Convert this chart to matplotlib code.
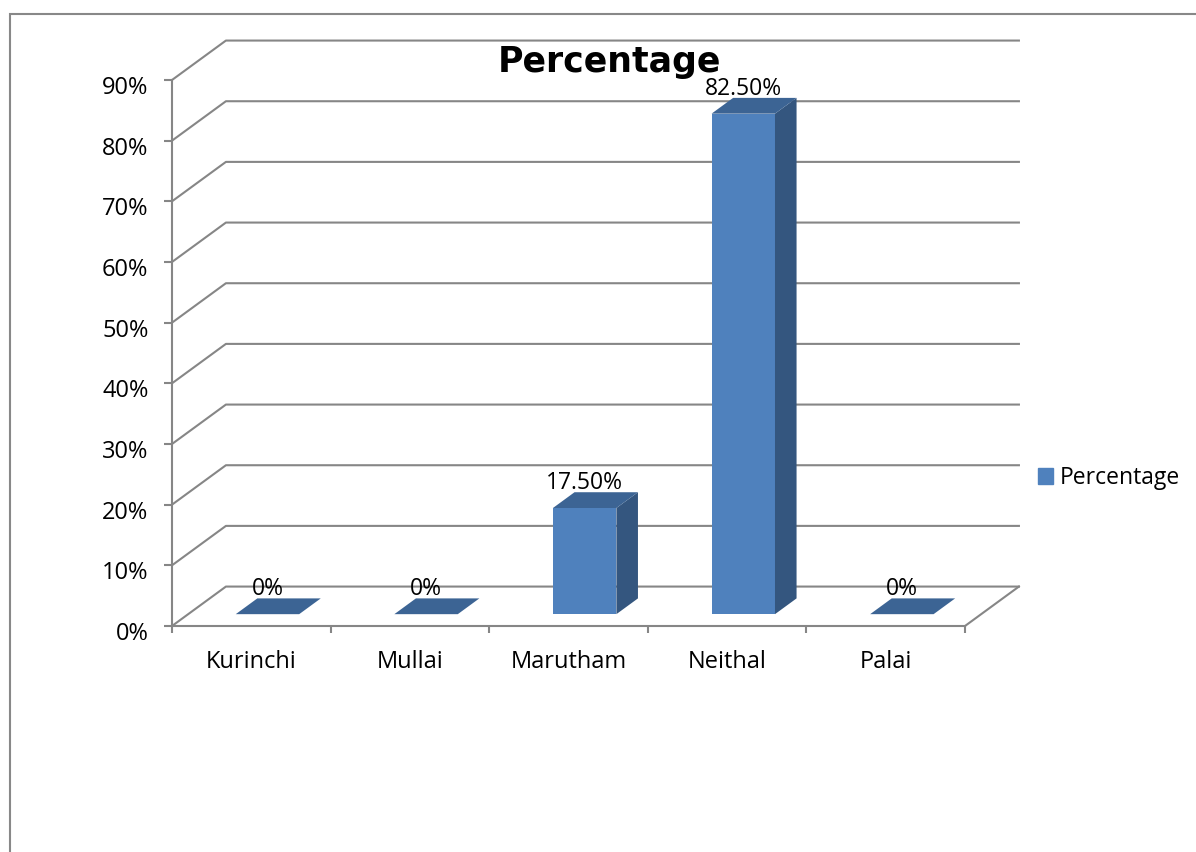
import matplotlib
matplotlib.use("Agg")
import matplotlib.pyplot as plt
from matplotlib.patches import Polygon, Patch, Rectangle
from matplotlib.transforms import ScaledTranslation

categories = ['Kurinchi', 'Mullai', 'Marutham', 'Neithal', 'Palai']
values = [0, 0, 17.5, 82.5, 0]
value_labels = ['0%', '0%', '17.50%', '82.50%', '0%']
y_ticks = [0, 10, 20, 30, 40, 50, 60, 70, 80, 90]

FRONT = '#4F81BD'
TOP = '#3C6494'
SIDE = '#34567F'
GRID = '#868686'

# pseudo 3d depth, in data units (categories, percent)
DX, DY = 0.34, 6.5
F1, F2 = 0.30, 0.70   # bar front / back depth fraction
HALF = 0.2            # half bar width

plt.rcParams['font.family'] = ['Open Sans', 'DejaVu Sans']

fig = plt.figure(figsize=(11.96, 8.52), dpi=100)
ax = fig.add_axes([0.14381, 0.26526, 0.66304, 0.64085])
ax.set_xlim(-0.5, 4.5)
ax.set_ylim(0, 90)

# back wall gridlines + left wall diagonals
for y in y_ticks:
    ax.plot([-0.5, -0.5 + DX, 4.5 + DX], [y, y + DY, y + DY],
            color=GRID, lw=1.5, clip_on=False, zorder=1)
# floor right edge
ax.plot([4.5, 4.5 + DX], [0, DY], color=GRID, lw=1.5, clip_on=False, zorder=1)

def bar3d(i, v):
    xl1, xr1 = i - HALF + F1 * DX, i + HALF + F1 * DX
    xl2, xr2 = i - HALF + F2 * DX, i + HALF + F2 * DX
    b1, b2 = F1 * DY, F2 * DY
    t1, t2 = v + b1, v + b2
    ax.add_patch(Polygon([(xl1, b1), (xr1, b1), (xr1, t1), (xl1, t1)],
                         closed=True, fc=FRONT, ec='none', zorder=3, clip_on=False))
    ax.add_patch(Polygon([(xr1, b1), (xr2, b2), (xr2, t2), (xr1, t1)],
                         closed=True, fc=SIDE, ec='none', zorder=3, clip_on=False))
    ax.add_patch(Polygon([(xl1, t1), (xr1, t1), (xr2, t2), (xl2, t2)],
                         closed=True, fc=TOP, ec='none', zorder=3, clip_on=False))
    return (xl1 + xr1) / 2, t1

for i, (v, lab) in enumerate(zip(values, value_labels)):
    cx, top = bar3d(i, v)
    ax.annotate(lab, xy=(cx, top), xytext=(0, 13.5), textcoords='offset points',
                ha='center', va='baseline', fontsize=16.5, color='black',
                zorder=5, annotation_clip=False)

for s in ['top', 'right']:
    ax.spines[s].set_visible(False)
for s in ['left', 'bottom']:
    ax.spines[s].set_color(GRID)
    ax.spines[s].set_linewidth(1.5)

ax.set_yticks(y_ticks)
ax.set_yticklabels([f'{t}%' for t in y_ticks], fontsize=17)
ax.tick_params(axis='y', length=6, width=1.5, color=GRID, pad=11)
shift = ScaledTranslation(0, -3.5 / 72, fig.dpi_scale_trans)
for lbl in ax.get_yticklabels():
    lbl.set_transform(lbl.get_transform() + shift)

ax.set_xticks([-0.5, 0.5, 1.5, 2.5, 3.5, 4.5])
ax.set_xticklabels([])
ax.set_xticks(range(len(categories)), minor=True)
ax.set_xticklabels(categories, minor=True, fontsize=17)
ax.tick_params(axis='x', which='major', length=5, width=1.5, color=GRID)
ax.tick_params(axis='x', which='minor', length=0, pad=17.5)
ax.patch.set_visible(False)

fig.text(609 / 1196, (852 - 72) / 852, 'Percentage', ha='center', va='baseline',
         fontsize=25, fontweight='bold', family='DejaVu Sans')

fig.legend(handles=[Patch(color=FRONT, label='Percentage')], loc='center left',
           bbox_to_anchor=(1038 / 1196, (852 - 478) / 852), frameon=False,
           fontsize=16.5, handlelength=0.65, handleheight=0.65, handletextpad=0.3,
           borderpad=0, borderaxespad=0)

# outer chart frame (only top and left edges visible)
fig.add_artist(Rectangle((10 / 1196, -0.1), 1.2, (852 - 14) / 852 + 0.1,
                         fill=False, ec='#888888', lw=1.5, transform=fig.transFigure))

fig.savefig('out.png', dpi=100)
